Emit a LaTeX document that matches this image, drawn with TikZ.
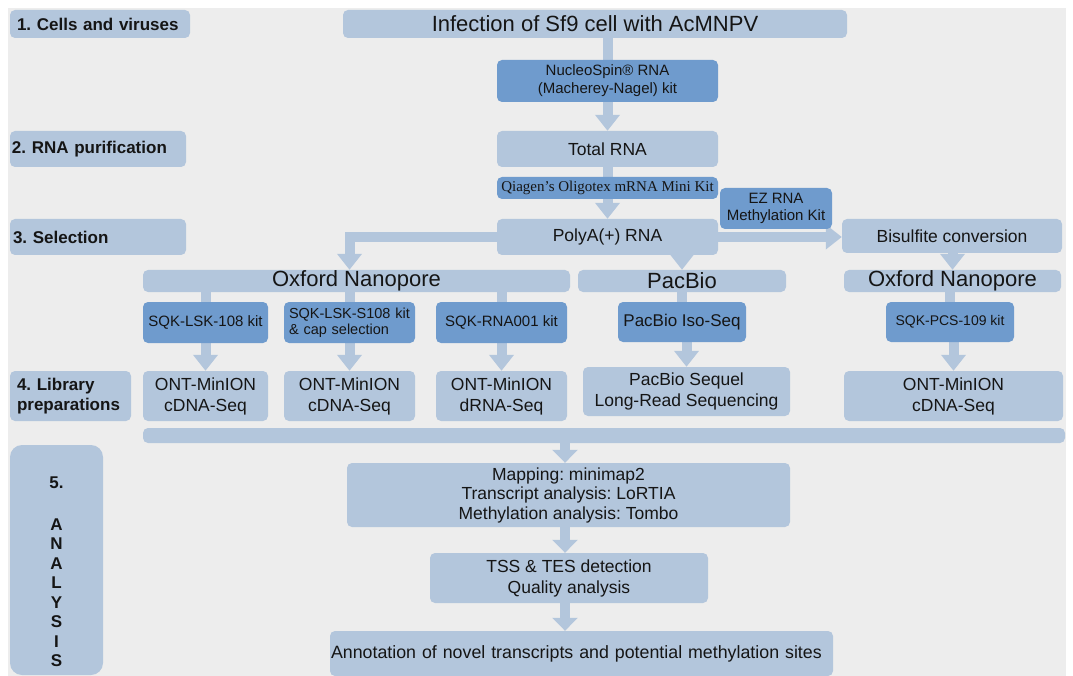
\documentclass[tikz,border=0pt]{standalone}
\usepackage{fontspec}
\setmainfont{Liberation Sans}
\newfontfamily\timesf{Liberation Serif}
\usetikzlibrary{arrows.meta}
\definecolor{lb}{HTML}{B3C6DC}
\definecolor{db}{HTML}{6F9BCD}
\definecolor{bgc}{HTML}{EDEDED}
\definecolor{txt}{HTML}{151515}
\pgfdeclarelayer{back}
\pgfdeclarelayer{arrs}
\pgfsetlayers{back,arrs,main}
\frenchspacing
\tikzset{
  box/.style={fill=lb, rounded corners=5pt, inner sep=0pt, text=txt, align=center},
  dbox/.style={box, fill=db},
  sz/.style 2 args={minimum width=#1pt, minimum height=#2pt},
  lbl/.style={box, align=left, font=\bfseries\fontsize{17}{20}\selectfont},
  fbig/.style={font=\fontsize{22}{24}\selectfont},
  fmid/.style={font=\fontsize{17.5}{21}\selectfont},
  fkit/.style={font=\fontsize{15}{17.5}\selectfont},
  shaft/.style={draw=lb, line width=10pt},
  arr/.style={draw=lb, line width=10pt, -{Triangle[width=24pt,length=16pt]}},
  arrs/.style={draw=lb, line width=10pt, -{Triangle[width=25pt,length=13pt]}},
}
\begin{document}
\frenchspacing
\begin{tikzpicture}[x=1pt, y=-1pt]
\useasboundingbox (0,0) rectangle (1073,676);
\begin{pgfonlayer}{back}
  \fill[bgc] (8,8) rectangle (1066,676);
\end{pgfonlayer}

% stage labels
\node[lbl, sz={180}{28}, inner xsep=7pt, text width=166pt] (cells) at (100,24) {1. Cells and viruses};
\node[lbl, sz={176}{36}, inner xsep=2pt, text width=172pt] (rnap) at (98,149) {2. RNA purification};
\node[lbl, sz={176}{36}, inner xsep=3pt, text width=170pt] (sel) at (98,237) {3. Selection};
\node[lbl, sz={121}{50}, inner xsep=7pt, text width=107pt] (lib) at (70.5,396) {4. Library\\preparations};
\node[box, sz={93}{230}, rounded corners=12pt,
  label={[yshift=-12pt, align=center, text=txt, font=\bfseries\fontsize{17}{19.5}\selectfont]center:{5.\\[22pt]A\\N\\A\\L\\Y\\S\\I\\S}}] (ana) at (56.5,560) {};

% main column
\node[box, fbig, sz={504}{28}] (inf) at (595,24) {Infection of Sf9 cell with AcMNPV};
\node[dbox, sz={221}{42}, font=\fontsize{15}{18}\selectfont] (nuc) at (607.5,81) {NucleoSpin® RNA\\(Macherey-Nagel) kit};
\node[box, fmid, sz={221}{36}] (tot) at (607.5,149) {Total RNA};
\node[dbox, sz={221}{22}, font=\timesf\fontsize{15}{16}\selectfont] (qia) at (607.5,188) {Qiagen’s Oligotex mRNA Mini Kit};
\node[dbox, sz={112}{41}, font=\fontsize{15}{17}\selectfont] (ez) at (776,208.5) {EZ RNA\\Methylation Kit};
\node[box, fmid, sz={221}{36}] (poly) at (607.5,237) {PolyA(+) RNA};
\node[box, fmid, sz={220}{34}] (bis) at (952,236) {Bisulfite conversion};

% platforms
\node[box, fbig, sz={427}{22}] (ox) at (356.5,281) {Oxford Nanopore};
\node[box, fbig, sz={208}{22}] (pac) at (682,281) {PacBio};
\node[box, fbig, sz={217}{22}] (oxr) at (952.5,281) {Oxford Nanopore};

% kits
\node[dbox, fkit, sz={125}{41}] (sq1) at (205.5,322.5) {SQK-LSK-108 kit};
\node[dbox, sz={131}{41}, align=left, inner xsep=5pt, text width=121pt, font=\fontsize{14.5}{16}\selectfont] (sq2) at (349.5,322.5) {SQK-LSK-S108 kit\\\& cap selection};
\node[dbox, fkit, sz={131}{41}] (sq3) at (501.5,322.5) {SQK-RNA001 kit};
\node[dbox, sz={128}{40}, font=\fontsize{17}{20}\selectfont] (iso) at (682,322) {PacBio Iso-Seq};
\node[dbox, sz={128}{40}, font=\fontsize{14}{16}\selectfont] (pcs) at (950,322) {SQK-PCS-109 kit};

% sequencing
\node[box, fmid, sz={125}{50}] (ont1) at (205.5,396) {ONT-MinION\\cDNA-Seq};
\node[box, fmid, sz={131}{50}] (ont2) at (349.5,396) {ONT-MinION\\cDNA-Seq};
\node[box, fmid, sz={131}{50}] (ont3) at (501.5,396) {ONT-MinION\\dRNA-Seq};
\node[box, fmid, sz={207}{49}] (seq) at (686.5,391.5) {PacBio Sequel\\Long-Read Sequencing};
\node[box, fmid, sz={219}{50}] (ontr) at (953.5,396) {ONT-MinION\\cDNA-Seq};
\node[box, sz={922}{15}] (wide) at (604,435.5) {};

% analysis
\node[box, sz={443}{64}, font=\fontsize{17.5}{19.5}\selectfont] (map) at (568.5,495) {Mapping: minimap2\\Transcript analysis: LoRTIA\\Methylation analysis: Tombo};
\node[box, fmid, sz={278}{50}] (tss) at (569,578) {TSS \& TES detection\\Quality analysis};
\node[box, sz={503}{45}, align=left, inner xsep=1pt, text width=501pt, font=\fontsize{17.8}{21}\selectfont] (ann) at (581.5,653.5) {Annotation of novel transcripts and potential methylation sites};
\coordinate (col) at (565,0);

\begin{pgfonlayer}{arrs}
  \draw[shaft] (nuc.north |- inf.south) -- (nuc.north);
  \draw[arr] (nuc.south) -- (tot.north);
  \draw[shaft] (tot.south) -- (qia.north);
  \draw[arr] (qia.south) -- (poly.north);
  \draw[arr] (poly.west) -| (sq2.north |- ox.north);
  \draw[arr] (pac.north |- poly.south) -- (pac.north);
  \draw[arr] (poly.east) -- (poly.east -| bis.west);
  \draw[arr] (oxr.north |- bis.south) -- (oxr.north);
  \draw[shaft] (sq1.north |- ox.south) -- (sq1.north);
  \draw[shaft] (sq2.north |- ox.south) -- (sq2.north);
  \draw[shaft] (sq3.north |- ox.south) -- (sq3.north);
  \draw[shaft] (iso.north |- pac.south) -- (iso.north);
  \draw[shaft] (pcs.north |- oxr.south) -- (pcs.north);
  \draw[arr] (sq1.south) -- (ont1.north);
  \draw[arr] (sq2.south) -- (ont2.north);
  \draw[arr] (sq3.south) -- (ont3.north);
  \draw[arr] (iso.south -| seq.north) -- (seq.north);
  \draw[arr] (pcs.south -| ontr.north) -- (ontr.north);
  \draw[arrs] (wide.south -| col) -- (map.north -| col);
  \draw[arrs] (map.south -| col) -- (tss.north -| col);
  \draw[arrs] (tss.south -| col) -- (ann.north -| col);
\end{pgfonlayer}
\end{tikzpicture}
\end{document}
